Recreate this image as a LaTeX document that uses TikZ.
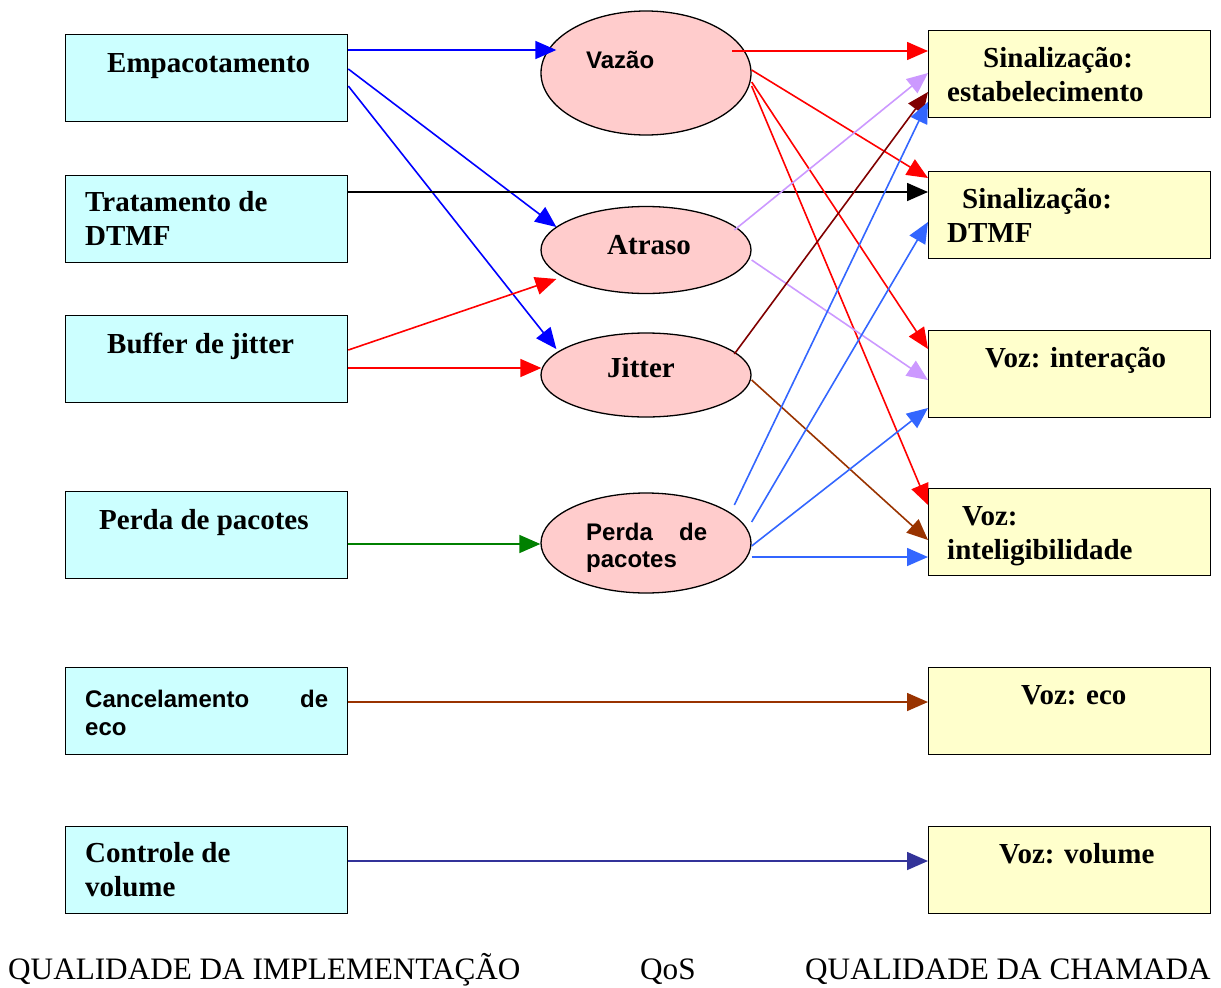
\documentclass[tikz,border=0pt]{standalone}
\usepackage{fontspec}
\setmainfont{Liberation Serif}
\setsansfont{Liberation Sans}
\usetikzlibrary{shapes.geometric,arrows.meta,calc}
\definecolor{boxL}{RGB}{204,255,255}
\definecolor{boxR}{RGB}{255,255,204}
\definecolor{ellF}{RGB}{255,204,204}
\definecolor{cBlue}{RGB}{0,0,255}
\definecolor{cRed}{RGB}{255,0,0}
\definecolor{cGreen}{RGB}{0,128,0}
\definecolor{cBrown}{RGB}{153,51,0}
\definecolor{cNavy}{RGB}{51,51,153}
\definecolor{cLilac}{RGB}{204,153,255}
\definecolor{cDark}{RGB}{128,0,0}
\definecolor{cSky}{RGB}{51,102,255}
\begin{document}
\begin{tikzpicture}[x=1pt,y=-1pt,
  lbox/.style={draw=black,line width=1.3pt,fill=boxL,minimum width=282pt,minimum height=87pt,anchor=north west,inner sep=0pt},
  rbox/.style={draw=black,line width=1.3pt,fill=boxR,minimum width=282pt,minimum height=87pt,anchor=north west,inner sep=0pt},
  qell/.style={ellipse,draw=black,line width=1.3pt,fill=ellF,inner sep=0pt,minimum width=210pt},
  st/.style={anchor=base west,inner sep=0pt,font=\fontsize{29}{34}\selectfont\bfseries},
  ss/.style={anchor=base west,inner sep=0pt,font=\fontsize{24}{30}\selectfont\sffamily\bfseries},
  bt/.style={anchor=base west,inner sep=0pt,font=\fontsize{31.2}{36}\selectfont},
  arr/.style={line width=1.6pt,-{Triangle[length=21pt,width=18pt]}},
]
\useasboundingbox (0,0) rectangle (1221,988);
% left boxes
\node[lbox] (emp) at (65,34) {};
\node[lbox] (tra) at (65,175) {};
\node[lbox] (buf) at (65,315) {};
\node[lbox] (per) at (65,491) {};
\node[lbox] (can) at (65,667) {};
\node[lbox] (con) at (65,826) {};
% right boxes
\node[rbox] (sest) at (928,30) {};
\node[rbox] (sdtmf) at (928,171) {};
\node[rbox] (vint) at (928,330) {};
\node[rbox] (vintel) at (928,488) {};
\node[rbox] (veco) at (928,667) {};
\node[rbox] (vvol) at (928,826) {};
% ellipses
\node[qell,minimum height=124pt] (vaz) at (646,73) {};
\node[qell,minimum height=87pt] (atr) at (646,250) {};
\node[qell,minimum height=84pt] (jit) at (646,375) {};
\node[qell,minimum height=100pt] (pp) at (646,543) {};
% texts
\node[st] (tEmp) at (107,72) {Empacotamento};
\node[st] (tTra1) at (85,211) {Tratamento de};
\node[st] (tTra2) at (85,245) {DTMF};
\node[st] (tBuf) at (107,353) {Buffer de jitter};
\node[st] (tPer) at (99,529) {Perda de pacotes};
\node[ss] (tCan1) at (85,707) {\makebox[243pt][s]{Cancelamento\hfill de}};
\node[ss] (tCan2) at (85,735) {eco};
\node[st] (tCon1) at (85,862) {Controle de};
\node[st] (tCon2) at (85,896) {volume};
\node[st] (tS1) at (983,67) {Sinalização:};
\node[st] (tS2) at (947,101) {estabelecimento};
\node[st] (tD1) at (962,208) {Sinalização:};
\node[st] (tD2) at (947,242) {DTMF};
\node[st] (tVi) at (985,367) {Voz: interação};
\node[st] (tVl1) at (962,525) {Voz:};
\node[st] (tVl2) at (947,559) {inteligibilidade};
\node[st] (tVe) at (1021,704) {Voz: eco};
\node[st] (tVv) at (999,863) {Voz: volume};
\node[ss] (tVaz) at (586,68) {Vazão};
\node[st] (tAtr) at (607,254) {Atraso};
\node[st] (tJit) at (607,377) {Jitter};
\node[ss] (tPp1) at (586,540) {\makebox[121pt][s]{Perda\hfill de}};
\node[ss] (tPp2) at (586,567) {pacotes};
\node[bt] (q1) at (8,979) {QUALIDADE DA IMPLEMENTAÇÃO};
\node[bt] (q2) at (640,979) {QoS};
\node[bt] (q3) at (805,979) {QUALIDADE DA CHAMADA};
% connectors from left boxes
\draw[arr,cBlue] ($(emp.north east)+(0,16)$) -- ($(vaz.west)+(16,-23)$);
\draw[arr,cBlue] ($(emp.north east)+(0,35)$) -- ($(atr.west)+(16,-23)$);
\draw[arr,cBlue] ($(emp.north east)+(0,52)$) -- ($(jit.west)+(16,-26)$);
\draw[arr,black] ($(tra.north east)+(0,17)$) -- ($(sdtmf.north west)+(0,21)$);
\draw[arr,cRed] ($(buf.north east)+(0,35)$) -- ($(atr.west)+(16,29)$);
\draw[arr,cRed] ($(buf.north east)+(0,53)$) -- ($(jit.west)+(1,-7)$);
\draw[arr,cGreen] ($(per.north east)+(0,53)$) -- ($(pp.west)+(0,1)$);
\draw[arr,cBrown] ($(can.north east)+(0,35)$) -- ($(veco.north west)+(0,35)$);
\draw[arr,cNavy] ($(con.north east)+(0,35)$) -- ($(vvol.north west)+(0,35)$);
% from Vazão
\draw[arr,cRed] ($(vaz.west)+(192,-22)$) -- ($(sest.north west)+(0,21)$);
\draw[arr,cRed] ($(vaz.east)+(0,-3)$) -- ($(sdtmf.north west)+(0,7)$);
\draw[arr,cRed] ($(vaz.east)+(0,9)$) -- ($(vint.north west)+(0,19)$);
\draw[arr,cRed] ($(vaz.east)+(0,13)$) -- ($(vintel.north west)+(0,17)$);
% from Atraso
\draw[arr,cLilac] ($(atr.west)+(194,-20)$) -- ($(sest.north west)+(0,43)$);
\draw[arr,cLilac] ($(atr.east)+(0,10)$) -- ($(vint.north west)+(0,50)$);
% from Jitter
\draw[arr,cDark] ($(jit.west)+(194,-21)$) -- ($(sest.north west)+(0,62)$);
\draw[arr,cBrown] ($(jit.east)+(0,5)$) -- ($(vintel.north west)+(0,52)$);
% from Perda de pacotes
\draw[arr,cSky] ($(pp.west)+(194,-38)$) -- ($(sest.north west)+(0,72)$);
\draw[arr,cSky] ($(pp.east)+(0,-21)$) -- ($(sdtmf.north west)+(0,51)$);
\draw[arr,cSky] ($(pp.east)+(0,3)$) -- ($(vint.north west)+(0,78)$);
\draw[arr,cSky] ($(pp.east)+(0,14)$) -- ($(vintel.north west)+(0,69)$);
\end{tikzpicture}
\end{document}
